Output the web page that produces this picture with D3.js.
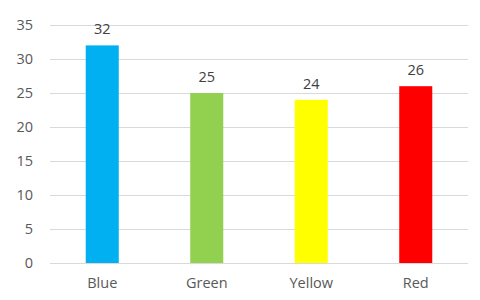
<!DOCTYPE html>
<html>
<head>
<meta charset="utf-8">
<script src="https://cdn.jsdelivr.net/npm/d3@7"></script>
<style>
  body { margin: 0; background: #fff; }
  text { font-family: "Open Sans", "DejaVu Sans", sans-serif; }
</style>
</head>
<body>
<div id="chart"></div>
<script>
// DATA
const categories = ["Blue", "Green", "Yellow", "Red"];
const values = [32, 25, 24, 26];
const barColors = ["#00b0f0", "#92d050", "#ffff00", "#ff0000"];
const yTicks = [0, 5, 10, 15, 20, 25, 30, 35];

// SIZES
const width = 480;
const height = 300;
const margin = {top: 25, right: 12, bottom: 37, left: 50};
const fontSize = "14.5px";

const svg = d3.select("#chart")
    .append("svg")
    .attr("width", width)
    .attr("height", height);

// SCALES
const x = d3.scaleBand()
    .domain(categories)
    .range([margin.left, width - margin.right])
    .padding(0);

const y = d3.scaleLinear()
    .domain([0, 35])
    .range([height - margin.bottom, margin.top]);

// GRIDLINES
svg.append("g")
    .selectAll("line")
    .data(yTicks)
    .enter()
    .append("line")
    .attr("x1", margin.left)
    .attr("x2", width - margin.right)
    .attr("y1", d => Math.round(y(d)) + 0.5)
    .attr("y2", d => Math.round(y(d)) + 0.5)
    .attr("stroke", "#d9d9d9")
    .attr("stroke-width", 1);

// Y AXIS LABELS
const yAxis = d3.axisLeft(y).tickValues(yTicks).tickSize(0).tickPadding(17);
svg.append("g")
    .attr("transform", "translate(" + margin.left + ",0)")
    .call(yAxis)
    .call(g => g.select(".domain").remove())
    .selectAll("text")
    .attr("fill", "#595959")
    .style("font-size", fontSize);

// X AXIS LABELS
const xAxis = d3.axisBottom(x).tickSize(0).tickPadding(15);
svg.append("g")
    .attr("transform", "translate(0," + (height - margin.bottom) + ")")
    .call(xAxis)
    .call(g => g.select(".domain").remove())
    .selectAll("text")
    .attr("fill", "#595959")
    .style("font-size", fontSize);

// BARS
const barW = x.bandwidth() * 0.316;
svg.append("g")
    .selectAll("rect")
    .data(values)
    .enter()
    .append("rect")
    .attr("x", (d, i) => x(categories[i]) + (x.bandwidth() - barW) / 2)
    .attr("y", d => y(d))
    .attr("width", barW)
    .attr("height", d => y(0) - y(d))
    .attr("fill", (d, i) => barColors[i]);

// VALUE LABELS
svg.append("g")
    .selectAll("text")
    .data(values)
    .enter()
    .append("text")
    .attr("x", (d, i) => x(categories[i]) + x.bandwidth() / 2)
    .attr("y", d => y(d) - 11)
    .attr("text-anchor", "middle")
    .attr("fill", "#404040")
    .style("font-size", fontSize)
    .text(d => d);
</script>
</body>
</html>
